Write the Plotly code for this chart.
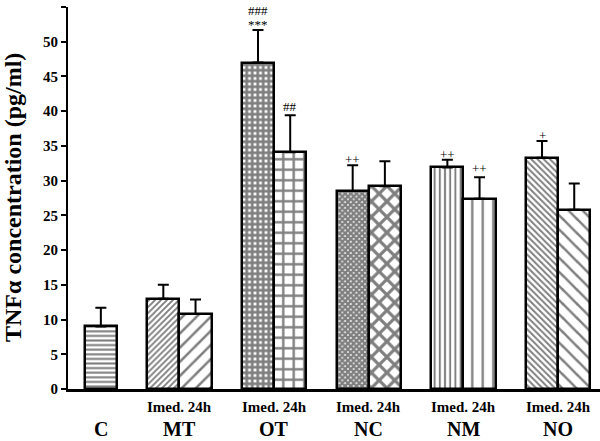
import plotly.graph_objects as go

# ---- data ----
groups = ["C", "MT", "OT", "NC", "NM", "NO"]
control_value = 9.0
control_err = 2.7
treated_groups = ["MT", "OT", "NC", "NM", "NO"]
imed_values = [13.0, 47.0, 28.5, 31.9, 33.3]
imed_errs = [2.0, 4.7, 3.7, 1.1, 2.4]
h24_values = [10.8, 34.1, 29.2, 27.4, 25.8]
h24_errs = [2.1, 5.3, 3.6, 3.1, 3.8]
imed_marks = ["", "***", "++", "++", "+"]
imed_marks_top = ["", "###", "", "", ""]
h24_marks = ["", "##", "", "++", ""]
sub_label = "Imed. 24h"
y_title = "TNFα concentration (pg/ml)"
y_ticks = list(range(0, 56, 5))

# ---- layout constants (in bar-width units) ----
BW = 1.0
c_center = 1.02
first_center = 3.46
spacing = 2.94
centers = [first_center + i * spacing for i in range(len(treated_groups))]
x_imed = [c - BW / 2 for c in centers]
x_24 = [c + BW / 2 for c in centers]

serif = "Liberation Serif, Times New Roman, serif"
line = dict(color="black", width=2.5)

def errbar(arr):
    return dict(type="data", symmetric=False, array=arr, arrayminus=[0] * len(arr),
                color="black", thickness=2, width=5.5)

fig = go.Figure()
fig.add_trace(go.Bar(
    x=[c_center], y=[control_value], width=BW,
    marker=dict(color="white", line=line,
                pattern=dict(shape="-", size=4.6, solidity=0.45, fgcolor="black", bgcolor="white")),
    error_y=errbar([control_err]), showlegend=False))
fig.add_trace(go.Bar(
    x=x_imed, y=imed_values, width=BW,
    marker=dict(color="white", line=line,
                pattern=dict(shape=["/", "+", "x", "|", "\\"],
                             size=[4.2, 5.5, 4.0, 5.2, 4.4],
                             solidity=[0.45, 0.75, 0.85, 0.38, 0.45],
                             fgcolor="black", bgcolor="white")),
    error_y=errbar(imed_errs), showlegend=False))
fig.add_trace(go.Bar(
    x=x_24, y=h24_values, width=BW,
    marker=dict(color="white", line=line,
                pattern=dict(shape=["/", "+", "x", "|", "\\"],
                             size=[10, 10.5, 11, 10.5, 10],
                             solidity=[0.25, 0.4, 0.5, 0.22, 0.25],
                             fgcolor="black", bgcolor="white")),
    error_y=errbar(h24_errs), showlegend=False))

ann = []
mark_font = dict(family=serif, size=13, color="black")
for x, v, e, m in zip(x_imed, imed_values, imed_errs, imed_marks):
    if m:
        ann.append(dict(x=x, y=v + e, text=m, showarrow=False, yanchor="bottom",
                        yshift=-4, font=mark_font))
for x, v, e, m in zip(x_imed, imed_values, imed_errs, imed_marks_top):
    if m:
        ann.append(dict(x=x, y=v + e, text=m, showarrow=False, yanchor="bottom",
                        yshift=10, font=mark_font))
for x, v, e, m in zip(x_24, h24_values, h24_errs, h24_marks):
    if m:
        ann.append(dict(x=x, y=v + e, text=m, showarrow=False, yanchor="bottom",
                        yshift=-1, font=mark_font))

for c in centers:
    ann.append(dict(x=c, y=0, yref="paper", text=sub_label, showarrow=False,
                    yanchor="middle", yshift=-18,
                    font=dict(family=serif, size=15, color="black", weight="bold")))
for c, g in zip([c_center] + centers, groups):
    ann.append(dict(x=c, y=0, yref="paper", text=g, showarrow=False,
                    yanchor="middle", yshift=-40,
                    font=dict(family=serif, size=20, color="black", weight="bold")))
ann.append(dict(x=0, xref="paper", y=0.5, yref="paper", text=y_title, textangle=-90,
                showarrow=False, xanchor="center", yanchor="middle", xshift=-55,
                font=dict(family=serif, size=24, color="black", weight="bold")))

fig.update_layout(
    width=600, height=441,
    margin=dict(l=68, r=0, t=7, b=52),
    plot_bgcolor="white", paper_bgcolor="white",
    barmode="overlay", bargap=0,
    annotations=ann,
    xaxis=dict(range=[0, 16.52], showline=True, linecolor="black", linewidth=2.5,
               showticklabels=False, ticks="", showgrid=False, zeroline=False, fixedrange=True),
    yaxis=dict(range=[0, 55], tickvals=y_ticks, showline=True, linecolor="black", linewidth=2,
               ticks="outside", ticklen=5, tickwidth=2, tickcolor="black",
               tickfont=dict(family=serif, size=15, color="black", weight="bold"),
               showgrid=False, zeroline=False, fixedrange=True),
)

fig.write_html("out.html", config={"displayModeBar": False},
               post_script="document.body.style.margin='0';")
